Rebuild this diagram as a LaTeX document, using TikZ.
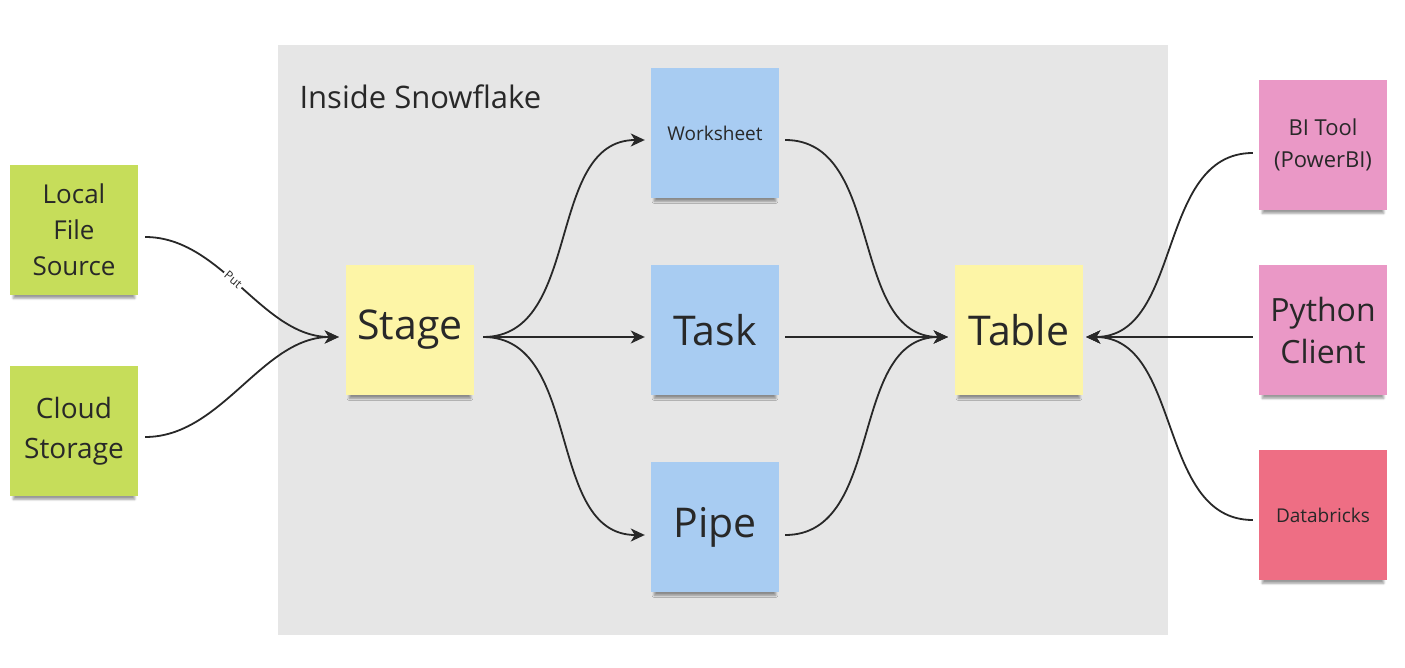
\documentclass[tikz,border=0pt]{standalone}
\usepackage{fontspec}
\setmainfont{Open Sans}
\usetikzlibrary{arrows.meta,shadows.blur}

\definecolor{boxgrey}{RGB}{230,230,230}
\definecolor{notegreen}{RGB}{198,221,90}
\definecolor{noteyellow}{RGB}{253,245,166}
\definecolor{noteblue}{RGB}{168,204,242}
\definecolor{notepink}{RGB}{234,152,198}
\definecolor{notered}{RGB}{238,110,132}
\definecolor{inkgrey}{RGB}{40,40,40}

\begin{document}
\begin{tikzpicture}[x=1pt, y=-1pt,
  note/.style={minimum width=128pt, minimum height=130pt, inner sep=0pt, align=center, text=inkgrey,
    blur shadow={shadow xshift=0pt, shadow yshift=-7pt, shadow scale=0.95, shadow opacity=40, shadow blur steps=7}},
  flow/.style={draw=inkgrey, line width=1.8pt, -{Stealth[length=14pt, width=13pt, inset=4pt]}}]
  \useasboundingbox (0,0) rectangle (1405,668);
  \fill[boxgrey] (278,45) rectangle (1168,635);
  \node[anchor=west, text=inkgrey, font=\fontsize{31}{36}\selectfont] (title) at (296,97) {Inside Snowflake};

  \node[note, fill=notegreen, font=\fontsize{26}{36}\selectfont] (lfs) at (74,230) {Local\\File\\Source};
  \node[note, fill=notegreen, font=\fontsize{28}{40}\selectfont] (cloud) at (74,431) {Cloud\\Storage};
  \node[note, fill=noteyellow, font=\fontsize{41}{48}\selectfont] (stage) at (410,330) {Stage};
  \node[note, fill=noteblue, font=\fontsize{19}{24}\selectfont] (sheet) at (715,133) {Worksheet};
  \node[note, fill=noteblue, font=\fontsize{41}{48}\selectfont] (task) at (715,330) {Task};
  \node[note, fill=noteblue, font=\fontsize{41}{48}\selectfont] (pipe) at (715,527) {Pipe};
  \node[note, fill=noteyellow, font=\fontsize{41}{48}\selectfont] (table) at (1019,330) {Table};
  \node[note, fill=notepink, font=\fontsize{22}{32}\selectfont] (bi) at (1323,145) {BI Tool\\(PowerBI)};
  \node[note, fill=notepink, font=\fontsize{32}{42}\selectfont] (python) at (1323,330) {Python\\Client};
  \node[note, fill=notered, font=\fontsize{19}{24}\selectfont] (databricks) at (1323,515) {Databricks};

  % loading into the stage
  \draw[flow] ([xshift=7pt, yshift=-7pt]lfs.east) to[out=0, in=180, looseness=0.9]
    node[pos=0.45, sloped, fill=white, inner sep=2pt, text=inkgrey, font=\fontsize{12}{14}\selectfont] (put) {Put}
    ([xshift=-7pt, yshift=-7pt]stage.west);
  \draw[flow] ([xshift=7pt, yshift=-6pt]cloud.east) to[out=0, in=180, looseness=0.9] ([xshift=-7pt, yshift=-7pt]stage.west);

  % stage to loaders
  \draw[flow] ([xshift=9pt, yshift=-7pt]stage.east) to[out=0, in=180] ([xshift=-6pt, yshift=-7pt]sheet.west);
  \draw[flow] ([xshift=9pt, yshift=-7pt]stage.east) -- ([xshift=-6pt, yshift=-7pt]task.west);
  \draw[flow] ([xshift=9pt, yshift=-7pt]stage.east) to[out=0, in=180] ([xshift=-6pt, yshift=-8pt]pipe.west);

  % loaders to table
  \draw[flow] ([xshift=6pt, yshift=-7pt]sheet.east) to[out=0, in=180] ([xshift=-7pt, yshift=-7pt]table.west);
  \draw[flow] ([xshift=6pt, yshift=-7pt]task.east) -- ([xshift=-7pt, yshift=-7pt]table.west);
  \draw[flow] ([xshift=6pt, yshift=-8pt]pipe.east) to[out=0, in=180] ([xshift=-7pt, yshift=-7pt]table.west);

  % consumers
  \draw[flow] ([xshift=-6pt, yshift=-8pt]bi.west) to[out=180, in=0] ([xshift=3pt, yshift=-7pt]table.east);
  \draw[flow] ([xshift=-6pt, yshift=-7pt]python.west) -- ([xshift=3pt, yshift=-7pt]table.east);
  \draw[flow] ([xshift=-6pt, yshift=-5pt]databricks.west) to[out=180, in=0] ([xshift=3pt, yshift=-7pt]table.east);
\end{tikzpicture}
\end{document}
